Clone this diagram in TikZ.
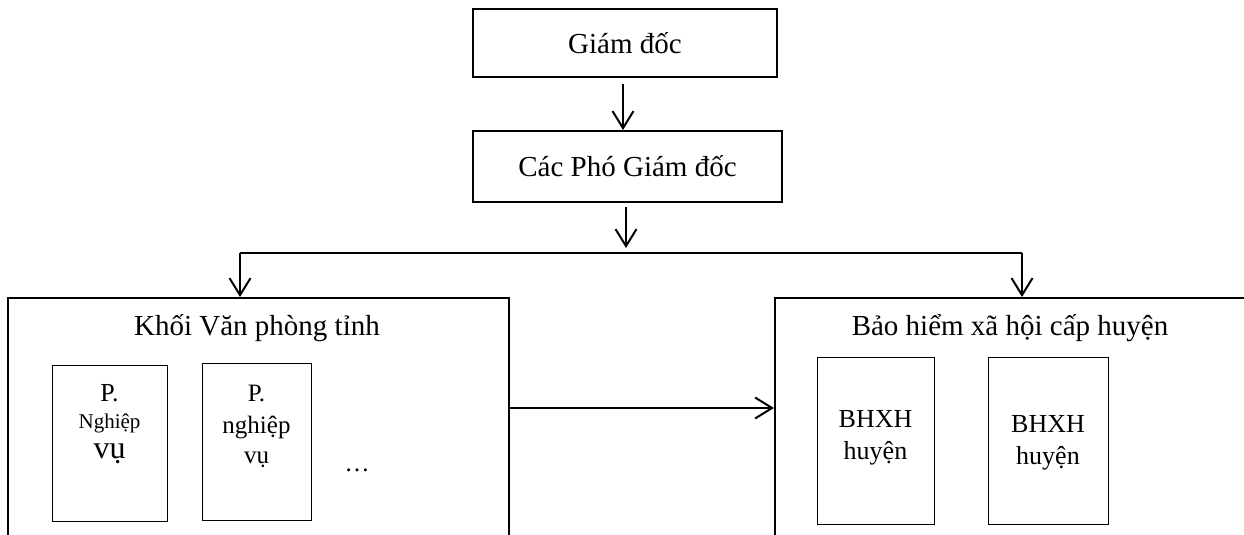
\documentclass[tikz,border=0pt]{standalone}
\usepackage{fontspec}
\setmainfont{Liberation Serif}
\usetikzlibrary{arrows.meta}
\tikzset{
  bigbox/.style={draw, line width=2pt, inner sep=0pt},
  topbox/.style={draw, line width=2pt, inner sep=0pt},
  smallbox/.style={draw, line width=1.4pt, inner sep=0pt},
  conn/.style={line width=2pt, -{Straight Barb[length=17pt,width=21pt,line width=2pt]}},
  plainline/.style={line width=2pt},
  lbl/.style={inner sep=0pt, anchor=base},
}
\newcommand{\fs}[1]{\fontsize{#1}{#1}\selectfont}
\begin{document}
\begin{tikzpicture}[x=1pt,y=-1pt]
\useasboundingbox (0,0) rectangle (1244,535);
\clip (0,0) rectangle (1244,535);
\fill[white] (0,0) rectangle (1244,535);

% top boxes
\node[topbox, minimum width=304pt, minimum height=68pt] (gd) at (625,43) {};
\node[lbl] (gdt) at (625,53) {\fs{29}Giám đốc};
\node[topbox, minimum width=309pt, minimum height=71pt] (pgd) at (627.5,166.5) {};
\node[lbl] (pgdt) at (627.5,176) {\fs{29}Các Phó Giám đốc};

% big boxes (cut by bottom edge)
\node[bigbox, minimum width=501pt, minimum height=300pt, anchor=north west] (vp) at (7,297) {};
\node[bigbox, minimum width=500pt, minimum height=300pt, anchor=north west] (bh) at (774,297) {};
\node[lbl] (vpt) at (257,335) {\fs{29}Khối Văn phòng tỉnh};
\node[lbl] (bht) at (1010,335) {\fs{29}Bảo hiểm xã hội cấp huyện};

% small boxes left
\node[smallbox, minimum width=115pt, minimum height=156pt, anchor=north west] (p1) at (52,365) {};
\node[lbl] (p1a) at (109.5,401) {\fs{26}P.};
\node[lbl] (p1b) at (109.5,428) {\fs{21}Nghiệp};
\node[lbl] (p1c) at (109.5,458) {\fs{32}vụ};
\node[smallbox, minimum width=109pt, minimum height=157pt, anchor=north west] (p2) at (202,363) {};
\node[lbl] (p2a) at (256.5,401) {\fs{25}P.};
\node[lbl] (p2b) at (256.5,433) {\fs{25}nghiệp};
\node[lbl] (p2c) at (256.5,463) {\fs{25}vụ};
\node[lbl] (dots) at (357,471) {\fs{25}\dots};

% small boxes right
\node[smallbox, minimum width=117pt, minimum height=167pt, anchor=north west] (h1) at (817,357) {};
\node[lbl] (h1a) at (875.5,427) {\fs{26}BHXH};
\node[lbl] (h1b) at (875.5,459) {\fs{26}huyện};
\node[smallbox, minimum width=120pt, minimum height=167pt, anchor=north west] (h2) at (988,357) {};
\node[lbl] (h2a) at (1048,432) {\fs{26}BHXH};
\node[lbl] (h2b) at (1048,464) {\fs{26}huyện};

% connectors
\coordinate (bus) at (626,253);
\coordinate (busL) at (240,253);
\coordinate (busR) at (1022,253);
\draw[conn] ([yshift=-6pt]gd.south -| 623,0) -- (pgd.north -| 623,0);
\draw[conn] ([yshift=-4pt]pgd.south -| bus) -- ([yshift=5pt]bus);
\draw[plainline] (busL) -- (busR);
\draw[conn] (busL) -- (vp.north -| busL);
\draw[conn] (busR) -- (bh.north -| busR);
\draw[conn] (vp.east |- 0,408) -- (bh.west |- 0,408);
\end{tikzpicture}
\end{document}
